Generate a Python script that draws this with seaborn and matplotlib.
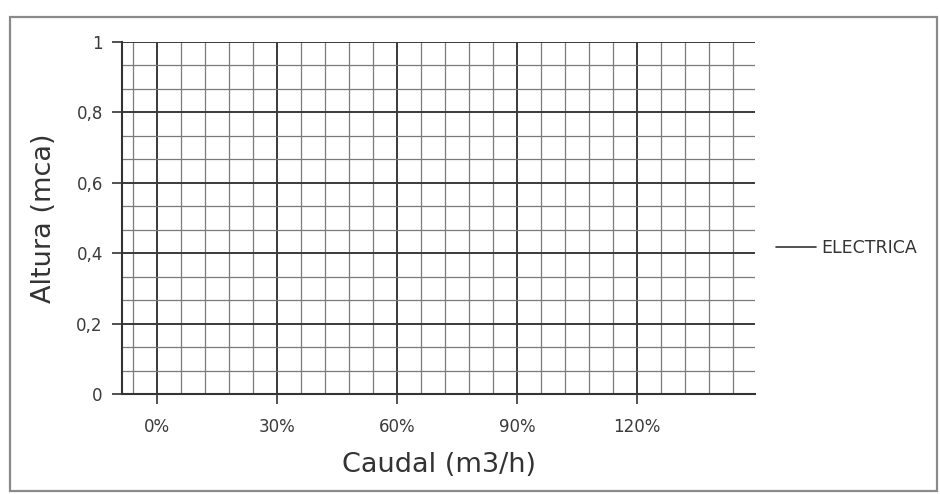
import matplotlib
matplotlib.use("Agg")
import matplotlib.pyplot as plt
from matplotlib.lines import Line2D
from matplotlib.patches import Rectangle
from matplotlib.ticker import FixedLocator, MultipleLocator
import seaborn as sns

# chart content (the series ELECTRICA has no points in the original)
caudal_ticks = [0, 30, 60, 90, 120]
caudal_labels = ["0%", "30%", "60%", "90%", "120%"]
altura_ticks = [0, 0.2, 0.4, 0.6, 0.8, 1.0]
altura_labels = ["0", "0,2", "0,4", "0,6", "0,8", "1"]
series_name = "ELECTRICA"
electrica_caudal = []
electrica_altura = []

sns.set_style("ticks")
plt.rcParams["font.family"] = ["DejaVu Sans"]

fig = plt.figure(figsize=(9.4, 4.94), dpi=100)
ax = fig.add_axes([0.130, 0.202, 0.673, 0.713])

if len(electrica_caudal):
    sns.lineplot(x=electrica_caudal, y=electrica_altura, ax=ax, color="#222222")

ax.set_xlim(-8.75, 149.5)
ax.set_ylim(0, 1)

ax.xaxis.set_major_locator(FixedLocator(caudal_ticks))
ax.xaxis.set_minor_locator(MultipleLocator(6))
ax.yaxis.set_major_locator(FixedLocator(altura_ticks))
ax.yaxis.set_minor_locator(MultipleLocator(0.2 / 3))
ax.set_xticklabels(caudal_labels)
ax.set_yticklabels(altura_labels)

ax.grid(which="major", color="#3a3a3a", linewidth=1.4)
ax.grid(which="minor", color="#7a7a7a", linewidth=0.9)
ax.set_axisbelow(True)

ax.tick_params(which="major", direction="out", length=7, width=1.2,
               color="#333333", labelsize=12, labelcolor="#3a3a3a")
ax.tick_params(axis="x", which="major", pad=10)
ax.tick_params(axis="y", which="major", pad=7)
ax.tick_params(which="minor", length=0)

for side in ["top", "right"]:
    ax.spines[side].set_visible(False)
for side in ["left", "bottom"]:
    ax.spines[side].set_color("#333333")
    ax.spines[side].set_linewidth(1.5)

ax.set_xlabel("Caudal (m3/h)", fontsize=19.5, color="#333333", labelpad=12)
ax.set_ylabel("Altura (mca)", fontsize=19.5, color="#333333", labelpad=14)

handle = Line2D([], [], color="#333333", linewidth=1.2)
fig.legend([handle], [series_name], loc="center left",
           bbox_to_anchor=(0.826, 0.498), frameon=False, fontsize=12.5,
           handlelength=2.3, handletextpad=0.3, borderpad=0, borderaxespad=0,
           labelcolor="#333333")

# outer chart frame
fig.patches.append(Rectangle((10 / 940, 1 - 491 / 494), 927 / 940, 474 / 494,
                             transform=fig.transFigure, fill=False,
                             edgecolor="#8a8a8a", linewidth=1.6))

fig.savefig("out.png", dpi=100)
